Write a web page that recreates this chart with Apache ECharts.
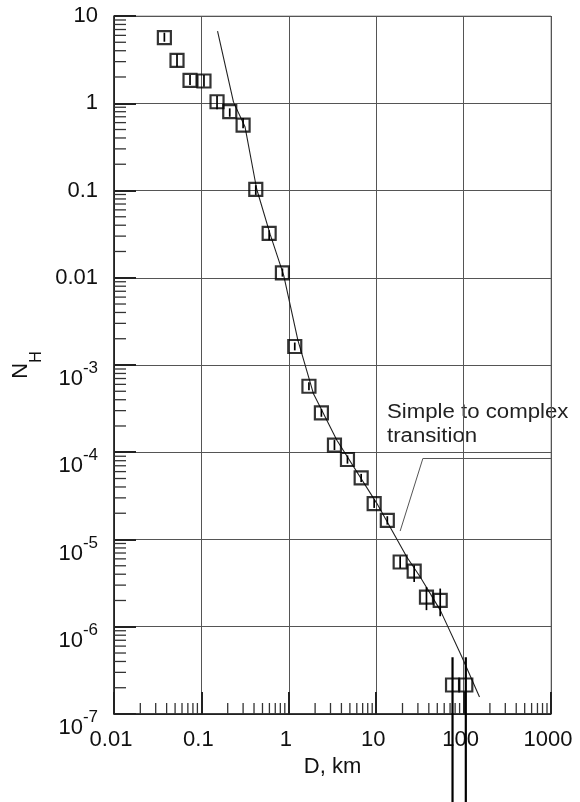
<!DOCTYPE html>
<html>
<head>
<meta charset="utf-8">
<script src="https://cdn.jsdelivr.net/npm/echarts@6/dist/echarts.min.js"></script>
<style>
html, body { margin: 0; padding: 0; background: #fff; }
#chart { width: 580px; height: 802px; }
</style>
</head>
<body>
<div id="chart"></div>
<script>
// Crater diameter D (km) versus cumulative crater density N_H
const diameters = [0.0377, 0.0526, 0.0741, 0.107, 0.151, 0.211, 0.300, 0.419, 0.596, 0.845,
                   1.17, 1.70, 2.36, 3.33, 4.69, 6.73, 9.48, 13.4, 18.8, 27.2, 37.6, 54.0, 74.7, 106];
const densities = [5.64, 3.10, 1.83, 1.80, 1.04, 0.80, 0.562, 0.103, 0.0322, 0.0114,
                   1.63e-3, 5.71e-4, 2.83e-4, 1.21e-4, 8.26e-5, 5.08e-5, 2.58e-5, 1.66e-5,
                   5.52e-6, 4.33e-6, 2.19e-6, 2.01e-6, 2.15e-7, 2.15e-7];
const errLow  = [5.07, 2.62, 1.62, 1.55, 0.852, 0.70, 0.516, 0.089, 0.027, 0.0103,
                 1.47e-3, 5.14e-4, 2.55e-4, 1.06e-4, 7.4e-5, 4.55e-5, 2.3e-5, 1.48e-5,
                 4.68e-6, 3.26e-6, 1.55e-6, 1.32e-6, 1e-9, 1e-9];
const errHigh = [6.44, 3.64, 2.11, 2.11, 1.21, 0.874, 0.677, 0.115, 0.035, 0.0128,
                 1.81e-3, 6.34e-4, 3.14e-4, 1.38e-4, 9.2e-5, 5.65e-5, 2.9e-5, 1.85e-5,
                 6.43e-6, 5.07e-6, 2.86e-6, 2.74e-6, 4.47e-7, 4.47e-7];

// Fitted production curve
const fitD = [0.153, 0.233, 0.316, 0.429, 0.611, 0.873, 1.27, 1.91, 3.55, 10.2, 22.4, 31.9, 54.0, 95.7, 152];
const fitN = [6.73, 1.03, 0.533, 0.104, 0.0316, 0.0107, 1.93e-3, 4.72e-4, 1.37e-4, 2.58e-5,
              6.31e-6, 3.72e-6, 1.55e-6, 4.50e-7, 1.57e-7];

// Leader line of the transition annotation
const leaderD = [18.8, 34.2, 1900];
const leaderN = [1.25e-5, 8.48e-5, 8.48e-5];

// Axis tick labels, one per decade
const xTickLabels = ['0.01', '0.1', '1', '10', '100', '1000'];
const yTickLabels = ['10', '1', '0.1', '0.01', '10^-3', '10^-4', '10^-5', '10^-6', '10^-7'];

const X_MIN = 0.01, X_MAX = 1000, Y_MIN = 1e-7, Y_MAX = 10;

// Minor log ticks (2..9 within every decade)
const xMinor = [], yMinor = [];
for (let e = -2; e < 3; e++) for (let k = 2; k <= 9; k++) xMinor.push([k * Math.pow(10, e), Y_MIN]);
for (let e = -7; e < 1; e++) for (let k = 2; k <= 9; k++) yMinor.push([X_MIN, k * Math.pow(10, e)]);

const FONT = 'Liberation Sans';
const INK = '#111';

const chart = echarts.init(document.getElementById('chart'), null, { renderer: 'canvas' });

chart.setOption({
  animation: false,
  backgroundColor: '#fff',
  textStyle: { fontFamily: FONT },
  grid: { left: 114, top: 16, right: 29, bottom: 88, show: true, borderColor: '#999', borderWidth: 1 },
  xAxis: {
    type: 'log', logBase: 10, min: X_MIN, max: X_MAX, interval: 1,
    name: 'D, km', nameLocation: 'middle', nameGap: 27,
    nameTextStyle: { fontSize: 22, color: INK, fontFamily: FONT },
    axisLine: { show: true, onZero: false, lineStyle: { color: INK, width: 1.5 } },
    axisTick: { show: true, inside: true, length: 22, lineStyle: { color: '#222', width: 2 } },
    axisLabel: {
      margin: 15, fontSize: 22, color: INK, fontFamily: FONT, padding: [0, 6, 0, 0],
      formatter: v => xTickLabels[Math.round(Math.log10(v)) + 2]
    },
    splitLine: { show: true, lineStyle: { color: '#555', width: 1 } }
  },
  yAxis: {
    type: 'log', logBase: 10, min: Y_MIN, max: Y_MAX, interval: 1,
    name: '{n|N}{h|H}', nameLocation: 'middle', nameGap: 76,
    nameTextStyle: {
      color: INK, fontFamily: FONT,
      rich: {
        n: { fontSize: 22, lineHeight: 22, verticalAlign: 'top', fontFamily: FONT, color: INK },
        h: { fontSize: 16, lineHeight: 16, verticalAlign: 'top', padding: [18, 0, 0, 0], fontFamily: FONT, color: INK }
      }
    },
    axisLine: { show: true, onZero: false, lineStyle: { color: INK, width: 1.5 } },
    axisTick: { show: true, inside: true, length: 22, lineStyle: { color: '#222', width: 2 } },
    axisLabel: {
      margin: 16, fontSize: 22, color: INK, fontFamily: FONT,
      formatter: v => {
        const t = yTickLabels[1 - Math.round(Math.log10(v))];
        const parts = t.split('^');
        return parts.length === 2 ? '{b|' + parts[0] + '}{s|' + parts[1] + '}' : t;
      },
      rich: {
        b: { fontSize: 22, lineHeight: 22, verticalAlign: 'top', padding: [14, 0, 0, 0], fontFamily: FONT, color: INK },
        s: { fontSize: 17, lineHeight: 17, verticalAlign: 'top', padding: [6, 0, 0, 0], fontFamily: FONT, color: INK }
      }
    },
    splitLine: { show: true, lineStyle: { color: '#555', width: 1 } }
  },
  graphic: [{
    type: 'text', left: 387, top: 400, scaleX: 1.11,
    style: {
      text: 'Simple to complex\ntransition', fontSize: 20, fontFamily: FONT,
      fill: '#222', lineHeight: 24
    }
  }],
  series: [
    {
      // minor ticks along the x axis
      type: 'custom', silent: true, clip: false, z: 3,
      data: xMinor, encode: { x: 0, y: 1 },
      renderItem: (params, api) => {
        const p = api.coord([api.value(0), api.value(1)]);
        return { type: 'line', shape: { x1: p[0], y1: p[1], x2: p[0], y2: p[1] - 11 },
                 style: { stroke: '#333', lineWidth: 1.3 } };
      }
    },
    {
      // minor ticks along the y axis
      type: 'custom', silent: true, clip: false, z: 3,
      data: yMinor, encode: { x: 0, y: 1 },
      renderItem: (params, api) => {
        const p = api.coord([api.value(0), api.value(1)]);
        return { type: 'line', shape: { x1: p[0], y1: p[1], x2: p[0] + 12, y2: p[1] },
                 style: { stroke: '#333', lineWidth: 1.3 } };
      }
    },
    {
      type: 'line', name: 'fit', symbol: 'none', silent: true,
      data: fitD.map((d, i) => [d, fitN[i]]),
      lineStyle: { color: '#222', width: 1.1 }
    },
    {
      type: 'line', name: 'leader', symbol: 'none', silent: true, clip: false,
      data: leaderD.map((d, i) => [d, leaderN[i]]),
      lineStyle: { color: '#555', width: 1 }
    },
    {
      // error bars
      type: 'custom', silent: true, clip: false, z: 4,
      data: diameters.map((d, i) => [d, errLow[i], errHigh[i]]),
      encode: { x: 0, y: [1, 2] },
      renderItem: (params, api) => {
        const lo = api.value(1);
        const p1 = api.coord([api.value(0), lo]);
        const p2 = api.coord([api.value(0), api.value(2)]);
        return { type: 'line', shape: { x1: p1[0], y1: p1[1], x2: p2[0], y2: p2[1] },
                 style: { stroke: '#000', lineWidth: lo < Y_MIN ? 2.2 : 1.7 } };
      }
    },
    {
      type: 'scatter', name: 'N_H', symbol: 'rect', symbolSize: 13, z: 5,
      data: diameters.map((d, i) => [d, densities[i]]),
      itemStyle: { color: 'rgba(0,0,0,0)', borderColor: '#000', borderWidth: 2.2 }
    }
  ]
});
</script>
</body>
</html>
